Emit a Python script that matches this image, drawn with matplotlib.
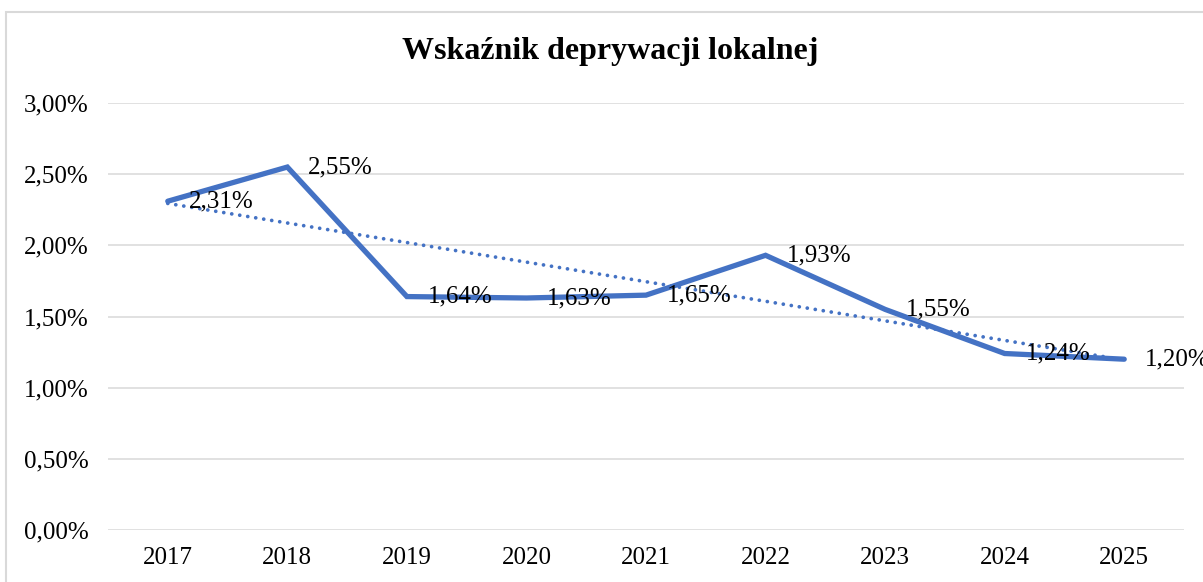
import matplotlib
matplotlib.use("Agg")
import matplotlib.pyplot as plt
import numpy as np
from matplotlib.patches import Rectangle

years = ["2017", "2018", "2019", "2020", "2021", "2022", "2023", "2024", "2025"]
values = [2.31, 2.55, 1.64, 1.63, 1.65, 1.93, 1.55, 1.24, 1.20]  # percent
yticks = [0.0, 0.5, 1.0, 1.5, 2.0, 2.5, 3.0]
title = "Wskaźnik deprywacji lokalnej"

plt.rcParams['font.family'] = ['Liberation Serif', 'DejaVu Serif']

W, H = 1203, 582
fig = plt.figure(figsize=(W / 100, H / 100), dpi=100)
fig.patch.set_facecolor("white")

# chart border
fig.patches.append(Rectangle((6 / W, -0.05), 1.1, 1 - 12 / H + 0.05,
                             transform=fig.transFigure, fill=False,
                             edgecolor="#D9D9D9", linewidth=1.5))

left, right = 108 / W, 1184 / W
bottom, top = 1 - 530 / H, 1 - 103 / H
ax = fig.add_axes([left, bottom, right - left, top - bottom])

x = np.arange(len(years))
vals = np.array(values)
blue = "#4472C4"

ax.plot(x, vals, color=blue, linewidth=3.8, solid_capstyle="round",
        solid_joinstyle="miter", zorder=3)

# linear trendline
coef = np.polyfit(x, vals, 1)
trend = np.polyval(coef, x)
ax.plot(x, trend, color=blue, linewidth=2.7, linestyle=(0, (0.01, 2.15)),
        dash_capstyle="round", zorder=2)

for xi, v in zip(x, vals):
    ax.annotate(f"{v:.2f}%".replace(".", ","), (xi, v), xytext=(15, 0),
                textcoords="offset points", ha="left", va="center",
                fontsize=18, color="black", annotation_clip=False, zorder=4)

ax.set_xlim(-0.5, len(years) - 0.5)
ax.set_ylim(0, 3.0)
ax.set_yticks(yticks)
ax.set_yticklabels([f"{t:.2f}%".replace(".", ",") for t in yticks], fontsize=18)
ax.set_xticks(x)
ax.set_xticklabels(years, fontsize=18)
ax.tick_params(axis="both", length=0)
ax.tick_params(axis="y", pad=14)
ax.tick_params(axis="x", pad=12)
ax.grid(axis="y", color="#D9D9D9", linewidth=1.1)
ax.set_axisbelow(True)
for s in ax.spines.values():
    s.set_visible(False)

fig.text(610 / W, 1 - 52 / H, title, ha="center", va="center",
         fontsize=23, fontweight="bold")

fig.savefig("out.png", dpi=100)
